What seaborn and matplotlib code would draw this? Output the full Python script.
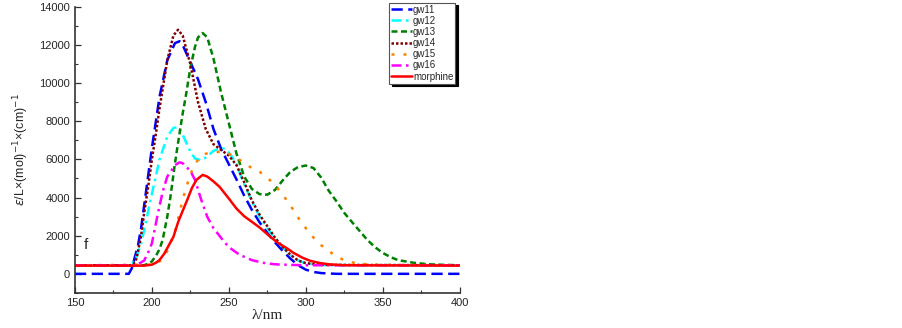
import numpy as np
import pandas as pd
import matplotlib
matplotlib.use('Agg')
import matplotlib.pyplot as plt
import seaborn as sns
from matplotlib.ticker import MultipleLocator

# Wavelengths (nm) and absorption values
wl_gw11 = [150, 185, 187, 189, 191, 193, 195, 200, 205, 210, 215, 218, 220, 225, 230, 235, 240, 245,
           250, 255, 260, 265, 270, 275, 280, 285, 290, 295, 300, 305, 310, 320, 400]
eps_gw11 = [0, 0, 300, 900, 1500, 2400, 3600, 6600, 9300, 11200, 12100, 12200, 12000, 11100, 10200,
            9000, 7600, 6550, 5750, 4950, 4100, 3350, 2700, 2150, 1650, 1200, 800, 450, 220, 100, 40, 0, 0]

wl_gw12 = [150, 185, 188, 190, 193, 195, 200, 205, 210, 214, 217, 220, 225, 228, 232, 236, 240,
           245, 248, 252, 255, 260, 265, 270, 275, 280, 285, 290, 295, 300, 310, 400]
eps_gw12 = [450, 450, 600, 900, 1600, 2300, 4200, 6000, 7200, 7650, 7700, 7300, 6400, 6050, 5950,
            6150, 6450, 6600, 6550, 6150, 5750, 4700, 3800, 3000, 2400, 1850, 1400, 1000, 700, 550, 460, 450]

wl_gw13 = [150, 195, 198, 200, 203, 205, 207, 210, 212, 215, 217, 220, 222, 225, 228, 230, 233,
           236, 240, 245, 250, 255, 260, 265, 270, 275, 280, 285, 290, 295, 300, 305, 310, 315,
           320, 325, 330, 335, 340, 345, 350, 355, 360, 370, 380, 390, 400]
eps_gw13 = [450, 450, 550, 650, 1000, 1300, 1780, 3000, 4000, 5800, 6860, 8400, 9300, 10800, 11900,
            12400, 12630, 12400, 11300, 9500, 7900, 6300, 5100, 4450, 4180, 4150, 4400, 4900, 5350,
            5600, 5680, 5550, 5050, 4350, 3800, 3200, 2720, 2250, 1780, 1400, 1100, 880, 720, 580,
            500, 470, 450]

wl_gw14 = [150, 186, 188, 190, 193, 195, 198, 200, 202, 205, 210, 214, 217, 220, 225, 230, 235,
           240, 245, 250, 255, 260, 265, 270, 275, 280, 285, 290, 295, 300, 310, 400]
eps_gw14 = [450, 450, 500, 800, 2000, 3200, 4800, 6000, 7020, 8700, 11200, 12500, 12800, 12500,
            11000, 9000, 7600, 6800, 6500, 6200, 5700, 4800, 3850, 3100, 2500, 1900, 1400, 1000,
            700, 560, 470, 450]

wl_gw15 = [150, 200, 205, 208, 210, 212, 215, 218, 220, 223, 226, 230, 235, 240, 245, 250, 255,
           260, 265, 270, 275, 280, 285, 290, 295, 300, 305, 310, 315, 320, 325, 330, 340, 350, 400]
eps_gw15 = [450, 480, 650, 900, 1200, 1600, 2200, 3200, 3900, 4700, 5400, 6000, 6300, 6380, 6400,
            6300, 6100, 5800, 5550, 5350, 5050, 4650, 4150, 3600, 2950, 2400, 1900, 1500, 1200, 900,
            720, 600, 500, 470, 450]

wl_gw16 = [150, 190, 195, 198, 200, 204, 207, 210, 215, 218, 220, 225, 228, 232, 236, 240, 246,
           250, 257, 265, 272, 280, 290, 300, 400]
eps_gw16 = [450, 450, 700, 1200, 1600, 3200, 4300, 5100, 5700, 5850, 5800, 5400, 4930, 3900, 2990,
            2400, 1780, 1400, 1000, 720, 580, 500, 470, 450, 450]

wl_morph = [150, 195, 200, 203, 205, 208, 210, 214, 217, 220, 223, 226, 229, 233, 236, 240, 244,
            250, 255, 260, 266, 270, 277, 282, 288, 292, 298, 303, 309, 315, 325, 400]
eps_morph = [430, 430, 480, 600, 730, 1050, 1350, 1940, 2700, 3300, 3880, 4500, 4930, 5190, 5100,
             4850, 4560, 3950, 3420, 3020, 2670, 2430, 1940, 1620, 1330, 1100, 840, 680, 570, 500,
             450, 430]

series = [
    ('gw11', wl_gw11, eps_gw11, '#0000ff', (4.5, 2.2)),
    ('gw12', wl_gw12, eps_gw12, '#00ffff', (4, 1.8, 1, 1.8)),
    ('gw13', wl_gw13, eps_gw13, '#008000', (2.4, 1.4)),
    ('gw14', wl_gw14, eps_gw14, '#800000', (1, 0.8)),
    ('gw15', wl_gw15, eps_gw15, '#ff8000', (1.2, 3.6)),
    ('gw16', wl_gw16, eps_gw16, '#ff00ff', (4, 1.8, 1, 1.8)),
    ('morphine', wl_morph, eps_morph, '#ff0000', None),
]

sns.set_style('ticks')
plt.rcParams['font.family'] = ['Liberation Sans', 'DejaVu Sans']

fig = plt.figure(figsize=(9.03, 3.28), dpi=100)
ax = fig.add_axes([0.083, 0.107, 0.426, 0.872])

for name, wl, eps, color, dash in series:
    df = pd.DataFrame({'wl': wl, 'eps': eps})
    sns.lineplot(data=df, x='wl', y='eps', ax=ax, color=color, linewidth=1.8, label=name)
    ln = ax.get_lines()[-1]
    if dash is not None:
        ln.set_dashes(dash)

ax.set_xlim(150, 400)
ax.set_ylim(-1000, 14000)
ax.xaxis.set_major_locator(MultipleLocator(50))
ax.xaxis.set_minor_locator(MultipleLocator(25))
ax.yaxis.set_major_locator(MultipleLocator(2000))
ax.yaxis.set_minor_locator(MultipleLocator(1000))
ax.tick_params(which='both', direction='in', labelsize=8, color='#333333')
ax.tick_params(which='major', length=4, width=0.9)
ax.tick_params(which='minor', length=2.5, width=0.8)
ax.set_yticks(np.arange(0, 14001, 2000))
sns.despine(ax=ax)
for sp in ['left', 'bottom']:
    ax.spines[sp].set_linewidth(1.2)
    ax.spines[sp].set_color('#333333')

ax.set_xlabel('λ/nm', fontsize=11, family='Liberation Serif', labelpad=1)
ax.set_ylabel(r'$\varepsilon$/L×(mol)$^{-1}$×(cm)$^{-1}$', fontsize=9, labelpad=6)
ax.text(156, 1300, 'f', fontsize=11)

leg = ax.legend(loc='upper left', bbox_to_anchor=(0.431, 0.992), bbox_transform=fig.transFigure,
                fontsize=7, frameon=True, fancybox=False, shadow={'color': 'black', 'alpha': 1},
                handlelength=2.1, handletextpad=0.15, borderpad=0.2, labelspacing=0.12,
                borderaxespad=0)
leg.get_frame().set_edgecolor('#555555')
leg.get_frame().set_linewidth(0.8)

fig.savefig('out.png', dpi=100)
